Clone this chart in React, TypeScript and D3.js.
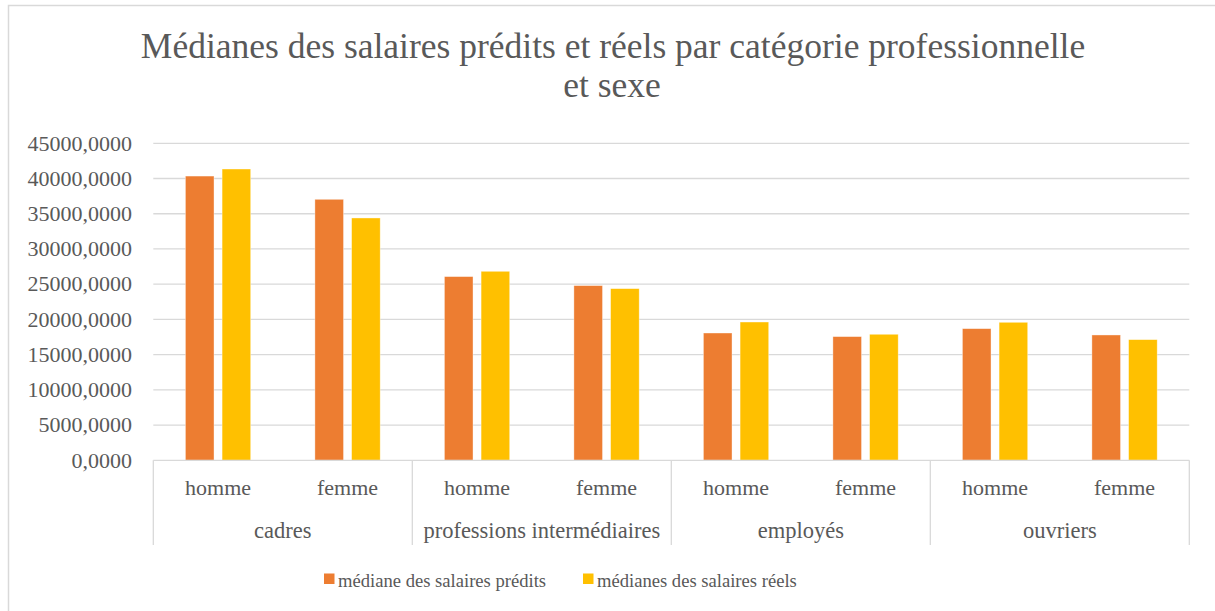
import { useEffect, useRef } from 'react';
import * as d3 from 'd3';

const GROUPS = ['cadres', 'professions intermédiaires', 'employés', 'ouvriers'];
const SEXES = ['homme', 'femme'];
const SERIES = ['médiane des salaires prédits', 'médianes des salaires réels'];
const COLORS = ['#ED7D31', '#FFC000'];
// valeurs, dans l'ordre groupe x sexe
const PREDITS = [40350, 37050, 26080, 24800, 18070, 17560, 18690, 17790];
const REELS = [41350, 34400, 26830, 24370, 19630, 17890, 19590, 17130];
const Y_TICKS = [0, 5000, 10000, 15000, 20000, 25000, 30000, 35000, 40000, 45000];

const W = 1215;
const H = 611;
const FONT = 'Liberation Serif, serif';
const TEXT = '#595959';
const GRID = '#d9d9d9';

export default function App() {
  const svgRef = useRef<SVGSVGElement>(null);

  useEffect(() => {
    if (!svgRef.current) return;
    const svg = d3.select(svgRef.current);
    svg.selectAll('*').remove();

    const left = 153.3;
    const right = 1189.3;
    const top = 143.3;
    const bottom = 460.3;

    // cadre extérieur
    svg.append('rect')
      .attr('x', 8.5).attr('y', 5.5)
      .attr('width', W + 20).attr('height', H + 20)
      .attr('fill', '#fff').attr('stroke', GRID).attr('stroke-width', 1.5);

    // titre
    const title = svg.append('text')
      .attr('text-anchor', 'middle')
      .attr('fill', TEXT)
      .attr('font-family', FONT)
      .attr('font-size', 35.5);
    title.append('tspan').attr('x', 613).attr('y', 58).text('Médianes des salaires prédits et réels par catégorie professionnelle');
    title.append('tspan').attr('x', 612).attr('y', 97).text('et sexe');

    const y = d3.scaleLinear().domain([0, 45000]).range([bottom, top]);
    const fmt = (v: number) => v.toFixed(4).replace('.', ',');

    svg.append('g').selectAll('line')
      .data(Y_TICKS.filter((t) => t > 0))
      .join('line')
      .attr('x1', left).attr('x2', right)
      .attr('y1', (d) => y(d)).attr('y2', (d) => y(d))
      .attr('stroke', GRID).attr('stroke-width', 1.3);

    svg.append('g').selectAll('text')
      .data(Y_TICKS)
      .join('text')
      .attr('x', 132)
      .attr('y', (d) => y(d))
      .attr('dy', '0.33em')
      .attr('text-anchor', 'end')
      .attr('fill', TEXT)
      .attr('font-family', FONT)
      .attr('font-size', 22)
      .text(fmt);

    const xGroup = d3.scaleBand<string>().domain(GROUPS).range([left, right]);
    const xSex = d3.scaleBand<string>().domain(SEXES).range([0, xGroup.bandwidth()]);
    const xSeries = d3.scaleBand<number>()
      .domain([0, 1])
      .range([32.1, xSex.bandwidth() - 32.1])
      .paddingInner(0.22);

    const rows = GROUPS.flatMap((g, gi) =>
      SEXES.map((s, si) => ({ g, s, vals: [PREDITS[gi * 2 + si], REELS[gi * 2 + si]] })),
    );

    const barG = svg.append('g');
    rows.forEach((r) => {
      const x0 = (xGroup(r.g) ?? 0) + (xSex(r.s) ?? 0);
      r.vals.forEach((v, k) => {
        barG.append('rect')
          .attr('x', x0 + (xSeries(k) ?? 0))
          .attr('y', y(v))
          .attr('width', xSeries.bandwidth())
          .attr('height', bottom - y(v))
          .attr('fill', COLORS[k])
          .attr('stroke', '#fff')
          .attr('stroke-opacity', 0.5)
          .attr('stroke-width', 0.75);
      });
      svg.append('text')
        .attr('x', x0 + xSex.bandwidth() / 2)
        .attr('y', 495)
        .attr('text-anchor', 'middle')
        .attr('fill', TEXT)
        .attr('font-family', FONT)
        .attr('font-size', 22)
        .text(r.s);
    });

    // axe des catégories à deux niveaux
    svg.append('line')
      .attr('x1', left).attr('x2', right)
      .attr('y1', bottom).attr('y2', bottom)
      .attr('stroke', GRID).attr('stroke-width', 1.3);
    svg.append('g').selectAll('line')
      .data([...GROUPS.map((g) => xGroup(g) ?? 0), right])
      .join('line')
      .attr('x1', (d) => d).attr('x2', (d) => d)
      .attr('y1', bottom).attr('y2', 545)
      .attr('stroke', GRID).attr('stroke-width', 1.3);
    svg.append('g').selectAll('text')
      .data(GROUPS)
      .join('text')
      .attr('x', (d) => (xGroup(d) ?? 0) + xGroup.bandwidth() / 2)
      .attr('y', 538)
      .attr('text-anchor', 'middle')
      .attr('fill', TEXT)
      .attr('font-family', FONT)
      .attr('font-size', 22.5)
      .text((d) => d);

    // légende
    const legendX = [324, 583];
    SERIES.forEach((s, k) => {
      svg.append('rect')
        .attr('x', legendX[k]).attr('y', 573.5)
        .attr('width', 10.5).attr('height', 10.5)
        .attr('fill', COLORS[k]);
      svg.append('text')
        .attr('x', legendX[k] + 14)
        .attr('y', 587)
        .attr('fill', TEXT)
        .attr('font-family', FONT)
        .attr('font-size', 18.6)
        .text(s);
    });
  }, []);

  return (
    <svg
      ref={svgRef}
      width={W}
      height={H}
      style={{ position: 'absolute', left: 0, top: 0, display: 'block' }}
    />
  );
}
